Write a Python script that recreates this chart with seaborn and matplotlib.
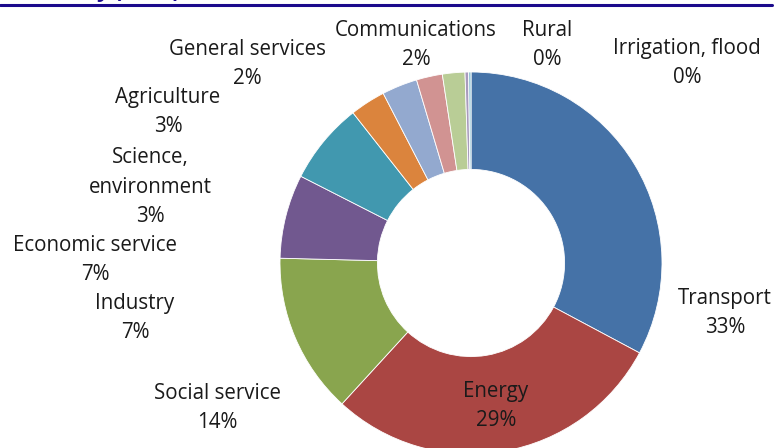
import matplotlib
matplotlib.use("Agg")
import matplotlib.pyplot as plt
import seaborn as sns

sectors = ["Transport", "Energy", "Social service", "Industry", "Economic service",
           "Science,\nenvironment", "Agriculture", "General services", "Communications",
           "Rural", "Irrigation, flood"]
shares = [32.8, 29.0, 13.6, 7.1, 6.9, 3.0, 3.0, 2.2, 1.9, 0.3, 0.2]
colors = ["#4572A7", "#AA4643", "#89A54E", "#71588F", "#4198AF", "#DB843D",
          "#93A9CF", "#D19392", "#B9CD96", "#A99BBD", "#92C3D4"]
# label centres in pixels (x from left, y from top) - layout only
label_px = [(725, 313), (496, 406), (217, 408), (135, 318), (95, 260),
            (150, 187), (168, 112), (247, 64), (416, 45), (547, 45), (687, 63)]

sns.set_theme(style="white")
plt.rcParams["font.family"] = ["Open Sans", "DejaVu Sans"]

W, H = 776, 448
fig = plt.figure(figsize=(W / 100, H / 100), dpi=100)
fig.patch.set_facecolor("white")

cx, cy, r = 471, 263, 191
ax = fig.add_axes([(cx - r) / W, (H - cy - r) / H, 2 * r / W, 2 * r / H])
ax.pie(shares, colors=colors, startangle=90, counterclock=False,
       wedgeprops=dict(width=0.51, edgecolor="white", linewidth=0.6))
ax.set_xlim(-1, 1)
ax.set_ylim(-1, 1)
ax.set_aspect("equal")
ax.axis("off")

for name, val, (px, py) in zip(sectors, shares, label_px):
    fig.text(px / W, 1 - py / H, f"{name}\n{round(val):.0f}%", ha="center", va="center",
             fontsize=14.8, color="#1a1a1a", linespacing=1.52, multialignment="center")

# header rule and clipped title fragment
fig.add_artist(plt.Line2D([0, 772 / W], [1 - 5 / H, 1 - 5 / H], color="#1B0A8C", linewidth=2.2))
fig.text(96 / W, 1 + 2.5 / H, "y (2010)", ha="left", va="baseline", fontsize=16,
         fontweight="bold", color="#1B0A8C")

fig.savefig("out.png", dpi=100, facecolor="white")
